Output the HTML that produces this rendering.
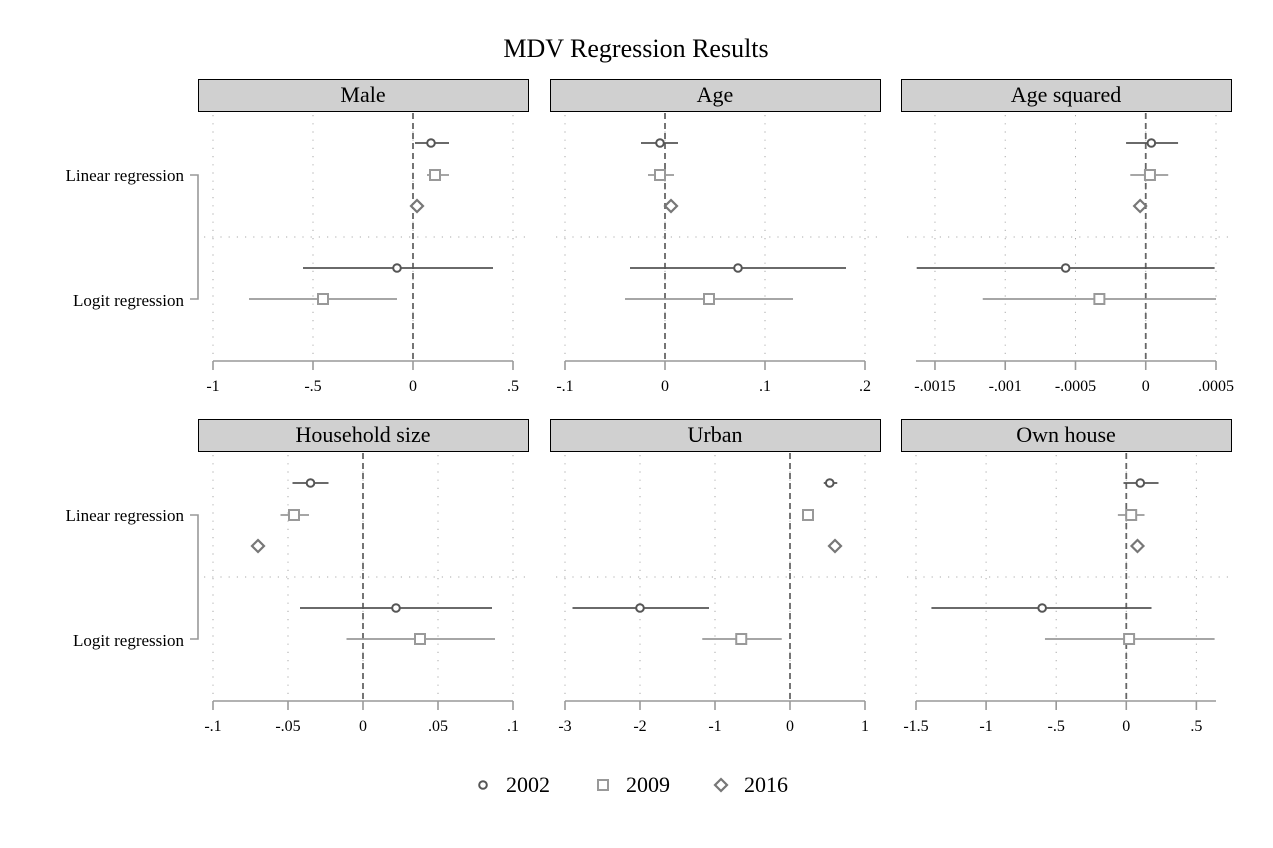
<!DOCTYPE html>
<html><head><meta charset="utf-8"><style>
body{margin:0;background:#fff;}
svg{display:block;font-family:"Liberation Serif",serif;}
</style></head><body>
<svg id="chart" width="1273" height="848">
<text x="636" y="57" text-anchor="middle" font-size="26">MDV Regression Results</text>
</svg>
<script>
const panelTitles=["Male","Age","Age squared","Household size","Urban","Own house"];
const axisMin=[-1,-0.1,-0.001635,-0.1,-3,-1.5];
const axisMax=[0.5,0.2,0.0005,0.1,1,0.64];
const tickValues=[[-1,-0.5,0,0.5],[-0.1,0,0.1,0.2],[-0.0015,-0.001,-0.0005,0,0.0005],[-0.1,-0.05,0,0.05,0.1],[-3,-2,-1,0,1],[-1.5,-1,-0.5,0,0.5]];
const tickLabels=[["-1","-.5","0",".5"],["-.1","0",".1",".2"],["-.0015","-.001","-.0005","0",".0005"],["-.1","-.05","0",".05",".1"],["-3","-2","-1","0","1"],["-1.5","-1","-.5","0",".5"]];
const years=["2002","2009","2016"];
// Linear regression estimates, [lo, est, hi] per panel
const lin2002=[[0.01,0.09,0.18],[-0.024,-0.005,0.013],[-0.00014,0.00004,0.00023],[-0.047,-0.035,-0.023],[0.45,0.53,0.63],[-0.02,0.1,0.23]];
const lin2009=[[0.07,0.11,0.18],[-0.017,-0.005,0.009],[-0.00011,0.00003,0.00016],[-0.055,-0.046,-0.036],[0.17,0.24,0.32],[-0.06,0.035,0.13]];
const lin2016=[[0.015,0.02,0.025],[0.004,0.006,0.008],[-0.00005,-0.00004,-0.00003],[-0.071,-0.07,-0.069],[0.58,0.6,0.62],[0.07,0.08,0.09]];
const logit2002=[[-0.55,-0.08,0.4],[-0.035,0.073,0.181],[-0.00163,-0.00057,0.00049],[-0.042,0.022,0.086],[-2.9,-2.0,-1.08],[-1.39,-0.6,0.18]];
const logit2009=[[-0.82,-0.45,-0.08],[-0.04,0.044,0.128],[-0.00116,-0.00033,0.0005],[-0.011,0.038,0.088],[-1.17,-0.65,-0.11],[-0.58,0.02,0.63]];

const svg=document.getElementById('chart');
const NS='http://www.w3.org/2000/svg';
function mk(tag,attrs,parent){const e=document.createElementNS(NS,tag);for(const k in attrs)e.setAttribute(k,attrs[k]);(parent||svg).appendChild(e);return e;}
const colors=["#555","#999","#777"];
const panelX=[198,550,901];
const panelY=[79,419];
function marker(g,type,x,y,c){
  let m;
  if(type===0)m=mk('circle',{cx:x,cy:y,r:3.8,fill:'#fff',stroke:c,'stroke-width':2},g);
  else if(type===1)m=mk('rect',{x:x-5,y:y-5,width:10,height:10,fill:'#fff',stroke:c,'stroke-width':2},g);
  else m=mk('polygon',{points:`${x},${y-6} ${x+6},${y} ${x},${y+6} ${x-6},${y}`,fill:'#fff',stroke:c,'stroke-width':2.2},g);
  return m;
}
for(let p=0;p<6;p++){
  const px=panelX[p%3], py=panelY[Math.floor(p/3)];
  const g=mk('g',{});
  
  
  const x0=px+15, x1=px+315;
  const sx=v=>x0+(v-axisMin[p])/(axisMax[p]-axisMin[p])*(x1-x0);
  const hdr=mk('rect',{x:px+0.5,y:py+0.5,width:330,height:32,fill:'#d0d0d0',stroke:'#000','stroke-width':1},g);
  
  
  const ht=mk('text',{x:px+165,y:py+23,'text-anchor':'middle','font-size':22},g);ht.textContent=panelTitles[p];
  
  
  const axY=py+282;
  tickValues[p].forEach((t,i)=>{
    const x=sx(t);
    mk('line',{x1:x,y1:py+36,x2:x,y2:axY-4,stroke:'#aaa','stroke-width':1,'stroke-dasharray':'1.2,7'},g);
    mk('line',{x1:x,y1:axY,x2:x,y2:axY+9,stroke:'#999','stroke-width':1.6},g);
    const tl=mk('text',{x:x,y:axY+30,'text-anchor':'middle','font-size':16},g);tl.textContent=tickLabels[p][i];
    
    
  });
  mk('line',{x1:px+6,y1:py+158,x2:px+330,y2:py+158,stroke:'#aaa','stroke-width':1,'stroke-dasharray':'1.2,7'},g);
  mk('line',{x1:x0,y1:axY,x2:x1,y2:axY,stroke:'#999','stroke-width':1.6},g);
  mk('line',{x1:sx(0),y1:py+34,x2:sx(0),y2:axY,stroke:'#666','stroke-width':1.8,'stroke-dasharray':'6,4'},g);
  if(p%3===0){
    mk('path',{d:`M${px-8},${py+96} H${px} V${py+220} H${px-8}`,fill:'none',stroke:'#999','stroke-width':1.6},g);
    const a=mk('text',{x:px-14,y:py+102,'text-anchor':'end','font-size':17},g);a.textContent='Linear regression';
    
    
    const b=mk('text',{x:px-14,y:py+227,'text-anchor':'end','font-size':17},g);b.textContent='Logit regression';
    
    
  }
  const series=[[lin2002,0,py+64],[lin2009,1,py+96],[lin2016,2,py+127],[logit2002,0,py+189],[logit2009,1,py+220]];
  series.forEach(([arr,type,y])=>{
    const d=arr[p],c=colors[type];
    const l=mk('line',{x1:sx(d[0]),y1:y,x2:sx(d[2]),y2:y,stroke:c,'stroke-width':1.8},g);
    
    
    const m=marker(g,type,sx(d[1]),y,c);
    
    
  });
}
const lg=mk('g',{});


const legX=[483,603,721];
years.forEach((y,i)=>{
  const m=marker(lg,i,legX[i],785,colors[i]);
  
  
  const t=mk('text',{x:legX[i]+23,y:792,'font-size':22},lg);t.textContent=y;
  
  
});
</script>
</body></html>
